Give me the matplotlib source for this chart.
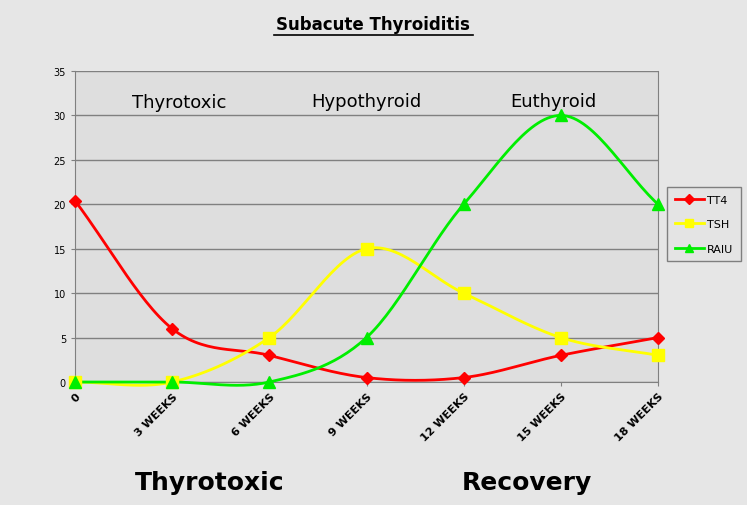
import numpy as np
import matplotlib
matplotlib.use("Agg")
import matplotlib.pyplot as plt

categories = ["0", "3 WEEKS", "6 WEEKS", "9 WEEKS", "12 WEEKS", "15 WEEKS", "18 WEEKS"]
tt4 = [20.4, 6, 3, 0.5, 0.5, 3, 5]
tsh = [0, 0, 5, 15, 10, 5, 3]
raiu = [0, 0, 0, 5, 20, 30, 20]
yticks = [0, 5, 10, 15, 20, 25, 30, 35]

def smooth(y, n=30):
    y = np.asarray(y, float)
    x = np.arange(len(y), dtype=float)
    p = np.concatenate([[2*y[0]-y[1]], y, [2*y[-1]-y[-2]]])
    xs, ys = [], []
    for i in range(len(y)-1):
        p0, p1, p2, p3 = p[i], p[i+1], p[i+2], p[i+3]
        t = np.linspace(0, 1, n, endpoint=False)
        v = 0.5*((2*p1) + (-p0+p2)*t + (2*p0-5*p1+4*p2-p3)*t**2 + (-p0+3*p1-3*p2+p3)*t**3)
        xs.append(x[i]+t); ys.append(v)
    xs.append([x[-1]]); ys.append([y[-1]])
    return np.concatenate(xs), np.concatenate(ys)

fig = plt.figure(figsize=(7.47, 5.06), dpi=100)
fig.patch.set_facecolor("#e6e6e6")
ax = fig.add_axes([75/747, 1-383/506, 583/747, 311/506])
ax.set_facecolor("#dedede")
x = np.arange(len(categories))
for data, col, mk, ms, lab in [(tt4, "#ff0000", "D", 6, "TT4"),
                               (tsh, "#ffff00", "s", 8, "TSH"),
                               (raiu, "#00ee00", "^", 8, "RAIU")]:
    sx, sy = smooth(data)
    ax.plot(sx, sy, color=col, lw=2, zorder=3, clip_on=False)
    ax.plot(x, data, ls="none", marker=mk, color=col, ms=ms, zorder=4, clip_on=False)
    ax.plot([], [], color=col, lw=2, marker=mk, ms=ms*0.8, label=lab)
ax.set_xlim(0, 6)
ax.set_ylim(0, 35)
ax.set_yticks(yticks)
ax.set_yticklabels([str(v) for v in yticks], fontsize=7)
ax.set_xticks(x)
ax.set_xticklabels(categories, rotation=45, ha="right", rotation_mode="anchor",
                   fontsize=8, fontweight="bold")
ax.yaxis.grid(True, color="#808080", lw=1)
ax.tick_params(length=3, color="#808080")
ax.spines["top"].set_visible(False)
for s in ["left", "bottom", "right"]:
    ax.spines[s].set_color("#808080")
ax.text(1.07, 31.5, "Thyrotoxic", fontsize=13, ha="center", va="center")
ax.text(3.0, 31.6, "Hypothyroid", fontsize=13, ha="center", va="center")
ax.text(4.92, 31.6, "Euthyroid", fontsize=13, ha="center", va="center")
leg = ax.legend(loc="upper left", bbox_to_anchor=((667-75)/583, (383-188)/311), frameon=True,
                fancybox=False, fontsize=8, labelspacing=1.3, handlelength=2.6,
                handletextpad=0.3, borderpad=0.7, borderaxespad=0)
leg.get_frame().set_edgecolor("#666666")
leg.get_frame().set_facecolor("#e4e4e4")
fig.text(373/747, 1-25/506, "Subacute Thyroiditis", fontsize=12, fontweight="bold",
         ha="center", va="center")
fig.add_artist(plt.Line2D([274/747, 473/747], [1-36/506, 1-36/506], color="black", lw=1.2))
fig.text(210/747, 1-483/506, "Thyrotoxic", fontsize=18, fontweight="bold", ha="center", va="center")
fig.text(527/747, 1-483/506, "Recovery", fontsize=18, fontweight="bold", ha="center", va="center")
fig.savefig("out.png", dpi=100, facecolor=fig.get_facecolor())
